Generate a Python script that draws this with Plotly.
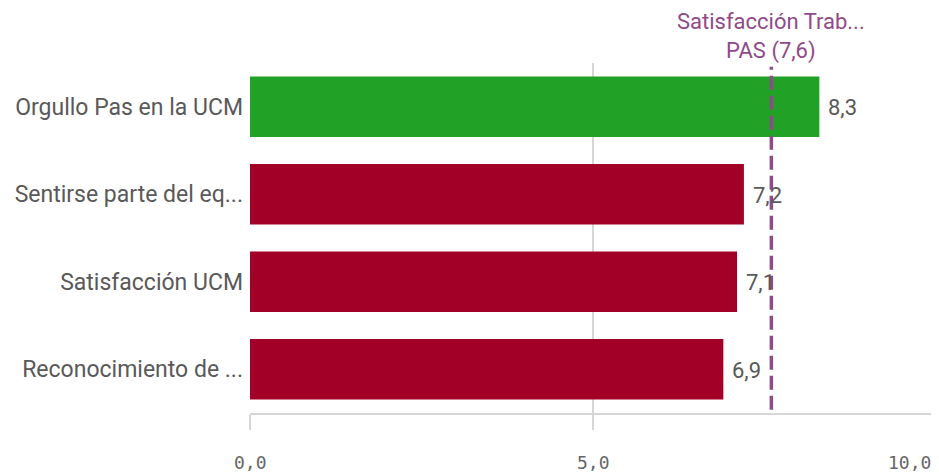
import plotly.graph_objects as go

categories = ["Orgullo Pas en la UCM", "Sentirse parte del eq...", "Satisfacción UCM", "Reconocimiento de ..."]
values = [8.3, 7.2, 7.1, 6.9]
ref_value = 7.6
ref_label = "Satisfacción Trab...<br>PAS (7,6)"
x_ticks = [0, 5, 10]
x_tick_labels = ["0,0", "5,0", "10,0"]

GREEN = "#21a227"
RED = "#a30028"
colors = [GREEN if v >= ref_value else RED for v in values]

fig = go.Figure()
fig.add_trace(go.Bar(
    x=values, y=categories, orientation="h",
    marker=dict(color=colors, line=dict(width=0)),
    width=0.69, hoverinfo="skip",
))

for c, v in zip(categories, values):
    fig.add_annotation(x=v, y=c, xref="x", yref="y", text=f"{v:.1f}".replace(".", ","),
                       showarrow=False, xanchor="left", xshift=7, yshift=-1,
                       font=dict(family="Roboto", size=22, color="#595959"))

# x tick labels (last one right-aligned to stay inside the chart)
for i, (t, lab) in enumerate(zip(x_ticks, x_tick_labels)):
    last = i == len(x_ticks) - 1
    fig.add_annotation(x=t, y=0, xref="x", yref="paper", text=lab, showarrow=False,
                       xanchor="right" if last else "center", yanchor="middle",
                       yshift=-49, xshift=-3 if last else 0,
                       font=dict(family="DejaVu Sans Mono", size=18, color="#666666"))

fig.add_shape(type="line", xref="x", yref="paper", x0=ref_value, x1=ref_value, y0=0.009, y1=0.989,
              line=dict(color="#904a87", width=3.5, dash="14px,6px"))
fig.add_annotation(x=ref_value, y=1, xref="x", yref="paper", text=ref_label, showarrow=False,
                   yanchor="bottom", yshift=-3, align="center",
                   font=dict(family="Roboto", size=22, color="#904a87"))

fig.update_layout(
    width=931, height=468,
    margin=dict(l=242, r=3, t=55, b=63),
    paper_bgcolor="white", plot_bgcolor="white",
    showlegend=False,
    xaxis=dict(range=[0, 10], tickvals=x_ticks, showticklabels=False,
               showgrid=True, gridcolor="#d6d6d6", gridwidth=1.5,
               showline=True, linecolor="#d6d6d6", linewidth=1.5,
               ticks="outside", ticklen=15, tickcolor="#d6d6d6", tickwidth=1.5,
               zeroline=False, fixedrange=True),
    yaxis=dict(autorange="reversed", showgrid=False, ticks="", ticklabelstandoff=6,
               tickfont=dict(family="Roboto", size=23, color="#595959"),
               showline=False, fixedrange=True),
    bargap=0.31,
)

fig.write_html("out.html")
